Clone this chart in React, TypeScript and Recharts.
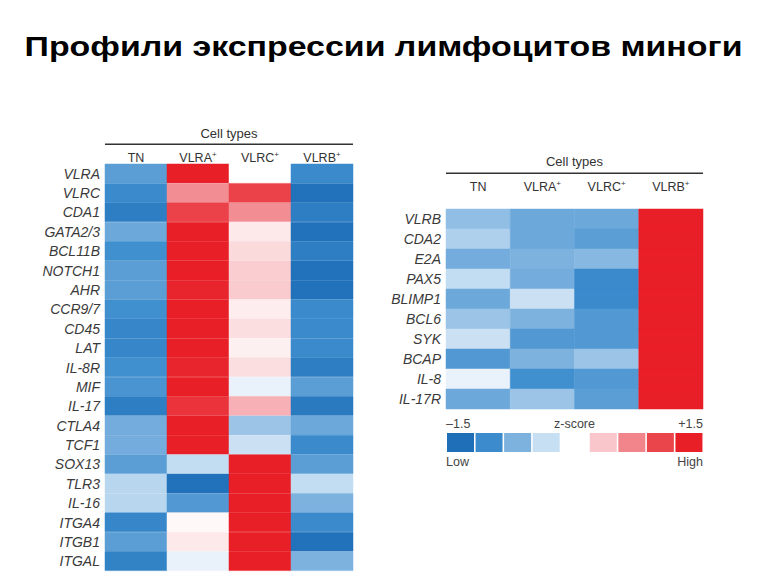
import { BarChart, Bar, Cell, XAxis, YAxis } from 'recharts'

const FONT = '"Liberation Sans", Arial, sans-serif'

const columns = ['TN', 'VLRA', 'VLRC', 'VLRB']

// left panel: T-like / VLRA / VLRC related genes
const leftGenes = ['VLRA', 'VLRC', 'CDA1', 'GATA2/3', 'BCL11B', 'NOTCH1', 'AHR', 'CCR9/7', 'CD45', 'LAT', 'IL-8R',
  'MIF', 'IL-17', 'CTLA4', 'TCF1', 'SOX13', 'TLR3', 'IL-16', 'ITGA4', 'ITGB1', 'ITGAL']
const leftTN = [-0.95, -1.15, -1.3, -0.85, -1.1, -0.95, -0.95, -1.1, -1.2, -1.2, -1.1, -1.05, -1.3, -0.8, -0.8, -0.95, -0.45, -0.45, -1.2, -0.95, -1.25]
const leftVLRA = [1.5, 0.7, 1.15, 1.5, 1.5, 1.5, 1.45, 1.5, 1.5, 1.5, 1.45, 1.5, 1.3, 1.5, 1.5, -0.4, -1.45, -1.0, 0.05, 0.15, -0.15]
const leftVLRC = [0, 1.15, 0.7, 0.15, 0.25, 0.33, 0.35, 0.12, 0.22, 0.1, 0.22, -0.15, 0.5, -0.6, -0.35, 1.5, 1.5, 1.5, 1.5, 1.5, 1.5]
const leftVLRB = [-1.15, -1.45, -1.3, -1.45, -1.3, -1.45, -1.45, -1.15, -1.15, -1.15, -1.3, -0.95, -1.35, -0.85, -1.15, -0.95, -0.4, -0.75, -1.15, -1.45, -0.75]

// right panel: VLRB related genes
const rightGenes = ['VLRB', 'CDA2', 'E2A', 'PAX5', 'BLIMP1', 'BCL6', 'SYK', 'BCAP', 'IL-8', 'IL-17R']
const rightTN = [-0.65, -0.5, -0.8, -0.4, -0.85, -0.6, -0.35, -1.0, -0.15, -0.85]
const rightVLRA = [-0.85, -0.85, -0.75, -0.8, -0.35, -0.75, -1.0, -0.75, -1.1, -0.6]
const rightVLRC = [-0.85, -0.95, -0.7, -1.15, -1.15, -1.0, -1.0, -0.6, -1.0, -0.95]
const rightVLRB = [1.5, 1.5, 1.5, 1.5, 1.5, 1.5, 1.5, 1.5, 1.5, 1.5]

// z-score colour scale (also the legend swatches)
const scaleSteps = [-1.5, -1.125, -0.75, -0.375, 0, 0.375, 0.75, 1.125, 1.5]
const scaleColors = ['#1e6eb8', '#3c8ccd', '#7db2df', '#c7dff2', '#ffffff', '#f9c7cb', '#f2848b', '#eb454c', '#e81f27']

function hexToRgb(h: string) {
  const n = parseInt(h.slice(1), 16)
  return [(n >> 16) & 255, (n >> 8) & 255, n & 255]
}

function zColor(z: number) {
  const v = Math.max(scaleSteps[0], Math.min(scaleSteps[scaleSteps.length - 1], z))
  let i = 0
  while (i < scaleSteps.length - 2 && v > scaleSteps[i + 1]) i++
  const t = (v - scaleSteps[i]) / (scaleSteps[i + 1] - scaleSteps[i])
  const a = hexToRgb(scaleColors[i])
  const b = hexToRgb(scaleColors[i + 1])
  const c = a.map((x, k) => Math.round(x + (b[k] - x) * t))
  return `rgb(${c[0]},${c[1]},${c[2]})`
}

function buildRows(genes: string[], cols: number[][]) {
  return genes.map((gene, i) => ({ gene, z: cols.map(c => c[i]), c0: 1, c1: 1, c2: 1, c3: 1 }))
}

function Header({ viewBox, textGap, lineGap }: any) {
  const { x, y, width, height } = viewBox
  const top = y + height
  return (
    <g>
      <text x={x + width / 2} y={top - textGap} textAnchor="middle" fontSize={13} fill="#333" fontFamily={FONT}>Cell types</text>
      <line x1={x} x2={x + width} y1={top - lineGap} y2={top - lineGap} stroke="#333" strokeWidth={1.4} />
    </g>
  )
}

function ColumnTick({ x, y, payload, gap }: any) {
  const name = columns[Math.floor(payload.value)]
  return (
    <text x={x} y={y - gap} textAnchor="middle" fontSize={12.5} fill="#333" fontFamily={FONT}>
      {name}
      {name !== 'TN' && <tspan dy={-5} fontSize={8}>+</tspan>}
    </text>
  )
}

function GeneTick({ x, y, payload }: any) {
  return (
    <text x={x - 5} y={y + 5} textAnchor="end" fontSize={14} fontStyle="italic" fill="#3a3a3a" fontFamily={FONT}>
      {payload.value}
    </text>
  )
}

interface HeatmapProps {
  genes: string[]
  values: number[][]
  width: number
  height: number
  margin: { top: number; right: number; bottom: number; left: number }
  yWidth: number
  axisHeight: number
  textGap: number
  lineGap: number
  labelGap: number
}

function Heatmap({ genes, values, width, height, margin, yWidth, axisHeight, textGap, lineGap, labelGap }: HeatmapProps) {
  const rows = buildRows(genes, values)
  return (
    <BarChart width={width} height={height} data={rows} layout="vertical" margin={margin} barCategoryGap={0}>
      <XAxis
        type="number"
        orientation="top"
        domain={[0, 4]}
        ticks={[0.5, 1.5, 2.5, 3.5]}
        height={axisHeight}
        axisLine={false}
        tickLine={false}
        tickSize={0}
        tickMargin={0}
        tick={(p: any) => <ColumnTick {...p} gap={labelGap} />}
        label={<Header textGap={textGap} lineGap={lineGap} />}
      />
      <YAxis
        type="category"
        dataKey="gene"
        width={yWidth}
        axisLine={false}
        tickLine={false}
        tickSize={0}
        tickMargin={0}
        interval={0}
        tick={(p: any) => <GeneTick {...p} />}
      />
      {columns.map((_, k) => (
        <Bar key={k} dataKey={`c${k}`} stackId="s" isAnimationActive={false}>
          {rows.map((r, i) => {
            const c = zColor(r.z[k])
            return <Cell key={i} fill={c} stroke={c} strokeWidth={0.5} />
          })}
        </Bar>
      ))}
    </BarChart>
  )
}

function LegendTopTick({ x, y, index, width, visibleTicksCount }: any) {
  const band = (width ?? 257) / (visibleTicksCount ?? 9)
  let text = ''
  let anchor = 'middle'
  let tx = x
  if (index === 0) { text = '\u20131.5'; anchor = 'start'; tx = x - band / 2 }
  else if (index === 4) { text = 'z-score' }
  else if (index === 8) { text = '+1.5'; anchor = 'end'; tx = x + band / 2 }
  if (!text) return <g />
  return <text x={tx} y={y - 4.7} textAnchor={anchor} fontSize={12.5} fill="#444" fontFamily={FONT}>{text}</text>
}

function LegendBottomTick({ x, y, index, width, visibleTicksCount }: any) {
  const band = (width ?? 257) / (visibleTicksCount ?? 9)
  if (index === 0) return <text x={x - band / 2} y={y + 13.7} textAnchor="start" fontSize={12.5} fill="#444" fontFamily={FONT}>Low</text>
  if (index === 8) return <text x={x + band / 2} y={y + 13.7} textAnchor="end" fontSize={12.5} fill="#444" fontFamily={FONT}>High</text>
  return <g />
}

function ScaleLegend() {
  const data = scaleSteps.map(step => ({ step, v: 1 }))
  return (
    <BarChart width={270} height={70} data={data} margin={{ top: 0, right: 7, bottom: 0, left: 6 }} barCategoryGap={1}>
      <XAxis xAxisId="top" dataKey="step" orientation="top" height={28} axisLine={false} tickLine={false}
        tickSize={0} tickMargin={0} interval={0} tick={(p: any) => <LegendTopTick {...p} />} />
      <XAxis xAxisId="bottom" dataKey="step" orientation="bottom" height={23} axisLine={false} tickLine={false}
        tickSize={0} tickMargin={0} interval={0} tick={(p: any) => <LegendBottomTick {...p} />} />
      <YAxis hide domain={[0, 1]} />
      <Bar xAxisId="top" dataKey="v" isAnimationActive={false}>
        {data.map((d, i) => <Cell key={i} fill={zColor(d.step)} />)}
      </Bar>
    </BarChart>
  )
}

export default function App() {
  return (
    <div style={{ position: 'absolute', left: 0, top: 0, width: 768, height: 576, background: '#fff', overflow: 'hidden' }}>
      <div style={{ position: 'absolute', left: 0, top: 33, width: 767, textAlign: 'center', fontFamily: FONT, fontWeight: 'bold', fontSize: 28, lineHeight: '28px', color: '#000', transform: 'scaleX(1.21)', transformOrigin: '383.5px 0' }}>
        Профили экспрессии лимфоцитов миноги
      </div>
      <div style={{ position: 'absolute', left: 0, top: 0 }}>
        <Heatmap
          genes={leftGenes}
          values={[leftTN, leftVLRA, leftVLRC, leftVLRB]}
          width={360}
          height={576}
          margin={{ top: 114, right: 7, bottom: 5, left: 0 }}
          yWidth={105}
          axisHeight={50}
          textGap={26.4}
          lineGap={19.7}
          labelGap={2.3}
        />
      </div>
      <div style={{ position: 'absolute', left: 360, top: 0 }}>
        <Heatmap
          genes={rightGenes}
          values={[rightTN, rightVLRA, rightVLRC, rightVLRB]}
          width={408}
          height={576}
          margin={{ top: 140, right: 65, bottom: 167, left: 0 }}
          yWidth={86}
          axisHeight={69}
          textGap={43}
          lineGap={35.7}
          labelGap={18.3}
        />
      </div>
      <div style={{ position: 'absolute', left: 440, top: 405 }}>
        <ScaleLegend />
      </div>
    </div>
  )
}
